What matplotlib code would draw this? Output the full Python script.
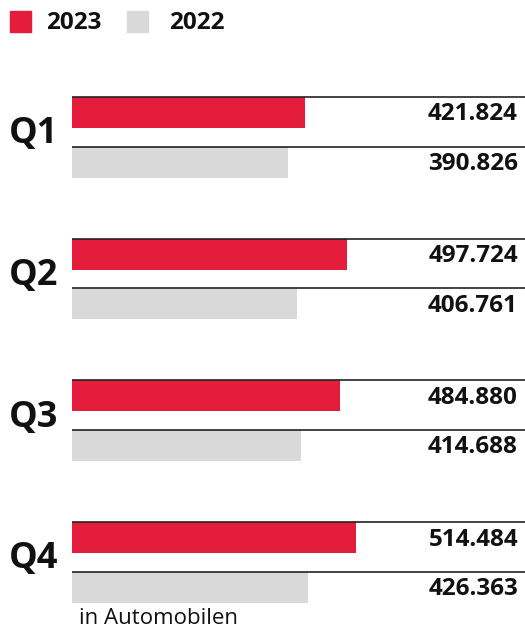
import matplotlib.pyplot as plt
from matplotlib.patches import Rectangle

quarters = ["Q1", "Q2", "Q3", "Q4"]
values_2023 = [421.824, 497.724, 484.880, 514.484]
values_2022 = [390.826, 406.761, 414.688, 426.363]
labels_2023 = ["421.824", "497.724", "484.880", "514.484"]
labels_2022 = ["390.826", "406.761", "414.688", "426.363"]

RED = "#e41d3d"
GRAY = "#d9d9d9"
W, H = 525, 630

plt.rcParams['font.family'] = ['Open Sans', 'DejaVu Sans']

fig = plt.figure(figsize=(W / 100, H / 100), dpi=100)
# axes from x=72px to right edge, full height; y in pixel units from top
ax = fig.add_axes([72 / W, 0, 1 - 72 / W, 1])
xmax = (W - 72) / 0.5525
ax.set_xlim(0, xmax)
ax.set_ylim(H, 0)
ax.axis("off")

bar_h = 31
for i, q in enumerate(quarters):
    y1 = 112.5 + 141.7 * i
    y2 = y1 + 49.5
    ax.barh(y1, values_2023[i], height=bar_h, color=RED, zorder=1)
    ax.barh(y2, values_2022[i], height=bar_h, color=GRAY, zorder=1)
    ax.axhline(y1 - bar_h / 2, color="#222222", lw=1.2, zorder=2)
    ax.axhline(y2 - bar_h / 2, color="#222222", lw=1.2, zorder=2)
    ax.text(xmax - 7 / 0.5525, y1 + 2, labels_2023[i], ha="right", va="center",
            fontsize=17.5, fontweight="bold", color="#111111")
    ax.text(xmax - 7 / 0.5525, y2 + 2, labels_2022[i], ha="right", va="center",
            fontsize=17.5, fontweight="bold", color="#111111")
    fig.text(9 / W, 1 - ((y1 + y2) / 2 - 3) / H, q, ha="left", va="center",
             fontsize=26, fontweight="bold", color="#111111")

# legend
fig.patches.append(Rectangle((10 / W, 1 - 32 / H), 21 / W, 21 / H,
                             transform=fig.transFigure, color=RED))
fig.text(46 / W, 1 - 23 / H, "2023", ha="left", va="center",
         fontsize=17.5, fontweight="bold", color="#111111")
fig.patches.append(Rectangle((127 / W, 1 - 32 / H), 21 / W, 21 / H,
                             transform=fig.transFigure, color=GRAY))
fig.text(169 / W, 1 - 23 / H, "2022", ha="left", va="center",
         fontsize=17.5, fontweight="bold", color="#111111")

fig.text(79 / W, 1 / H, "in Automobilen", ha="left", va="bottom",
         fontsize=16, color="#111111")

fig.savefig("out.png", dpi=100)
